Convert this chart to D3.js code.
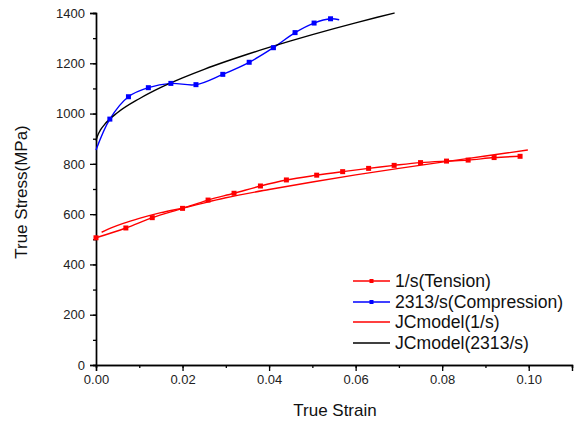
<!DOCTYPE html>
<html>
<head>
<meta charset="utf-8">
<script src="https://cdn.jsdelivr.net/npm/d3@7"></script>
<style>
  html, body { margin: 0; padding: 0; background: #fff; }
  svg { display: block; font-family: Arial, "Liberation Sans", sans-serif; }
</style>
</head>
<body>
<svg id="chart" width="581" height="422"></svg>
<script>
// ---- Data ----
const xTicks = [0, 0.02, 0.04, 0.06, 0.08, 0.10];
const xTickLabels = ["0.00", "0.02", "0.04", "0.06", "0.08", "0.10"];
const yTicks = [0, 200, 400, 600, 800, 1000, 1200, 1400];

// 1/s (Tension) experimental
const tensionStrain = [0, 0.0069, 0.013, 0.020, 0.0259, 0.0319, 0.038, 0.044, 0.051, 0.057, 0.063, 0.0689, 0.075, 0.081, 0.086, 0.092, 0.098];
const tensionStress = [506, 545, 586, 623, 656, 683, 712, 736, 755, 769, 782, 794, 805, 811, 815, 825, 830];

// 2313/s (Compression) experimental
const compStrain = [0, 0.0032, 0.0075, 0.0121, 0.0173, 0.0231, 0.0293, 0.0354, 0.041, 0.046, 0.0504, 0.0542, 0.0562];
const compStress = [855, 978, 1067, 1103, 1120, 1115, 1156, 1204, 1262, 1322, 1360, 1377, 1373];
const compMarker = [false, true, true, true, true, true, true, true, true, true, true, true, false];

// JC model (1/s)
const jc1Strain = [0.0013, 0.0035, 0.0063, 0.01, 0.015, 0.02, 0.03, 0.04, 0.05, 0.06, 0.07, 0.08, 0.09, 0.0998];
const jc1Stress = [528, 545, 563, 583, 606, 624, 665, 698, 728, 756, 782, 807, 831, 855];

// JC model (2313/s)
const jc2Strain = [0, 0.0005, 0.001, 0.002, 0.005, 0.01, 0.015, 0.02, 0.025, 0.03, 0.035, 0.04, 0.045, 0.05, 0.055, 0.06, 0.065, 0.069];
const jc2Stress = [893, 918, 934, 957, 1004, 1059, 1104, 1142, 1176, 1207, 1236, 1263, 1289, 1314, 1338, 1361, 1383, 1400];

const legendLabels = ["1/s(Tension)", "2313/s(Compression)", "JCmodel(1/s)", "JCmodel(2313/s)"];
const seriesColors = ["#ff0000", "#0000ff", "#ff0000", "#000000"];

// ---- Chart ----
const svg = d3.select("#chart");
const x = d3.scaleLinear().domain([0, 0.11]).range([96, 572]);
const y = d3.scaleLinear().domain([0, 1400]).range([365, 13]);

const zip = (a, b) => a.map((v, i) => [v, b[i]]);
const tension = zip(tensionStrain, tensionStress);
const comp = zip(compStrain, compStress);
const jc1 = zip(jc1Strain, jc1Stress);
const jc2 = zip(jc2Strain, jc2Stress);

// Axes
const xAxisMinor = d3.axisBottom(x).tickValues(d3.range(0, 0.1101, 0.01)).tickSize(3).tickFormat("");
const xAxis = d3.axisBottom(x).tickValues(xTicks).tickSize(6).tickPadding(4)
  .tickFormat((d, i) => xTickLabels[i]);
const yAxisMinor = d3.axisLeft(y).tickValues(d3.range(0, 1401, 100)).tickSize(3).tickFormat("");
const yAxis = d3.axisLeft(y).tickValues(yTicks).tickSize(6).tickPadding(5).tickFormat(d3.format("d"));

function styleAxis(g) {
  g.selectAll("path.domain").attr("stroke", "#000").attr("stroke-width", 1.4);
  g.selectAll(".tick line").attr("stroke", "#000").attr("stroke-width", 1.3);
  g.selectAll(".tick text").attr("fill", "#222").style("font-size", "13px")
    .style("font-family", "Arial, 'Liberation Sans', sans-serif");
}

svg.append("g").attr("transform", "translate(0,365)").call(xAxisMinor).call(styleAxis);
svg.append("g").attr("transform", "translate(0,365)").call(xAxis).call(styleAxis);
svg.append("g").attr("transform", "translate(96,0)").call(yAxisMinor).call(styleAxis);
svg.append("g").attr("transform", "translate(96,0)").call(yAxis).call(styleAxis);

// Axis titles
svg.append("text").attr("x", 335).attr("y", 416).attr("text-anchor", "middle")
  .style("font-size", "17px").attr("fill", "#111").text("True Strain");
svg.append("text").attr("transform", "translate(27,192) rotate(-90)").attr("text-anchor", "middle")
  .style("font-size", "17px").attr("fill", "#111").text("True Stress(MPa)");

// Lines
const smooth = d3.line().x(d => x(d[0])).y(d => y(d[1])).curve(d3.curveCatmullRom.alpha(0.5));
const model = d3.line().x(d => x(d[0])).y(d => y(d[1])).curve(d3.curveMonotoneX);

svg.append("path").datum(jc1).attr("d", model).attr("fill", "none")
  .attr("stroke", seriesColors[2]).attr("stroke-width", 1.4);
svg.append("path").datum(tension).attr("d", smooth).attr("fill", "none")
  .attr("stroke", seriesColors[0]).attr("stroke-width", 1.4);
svg.append("path").datum(comp).attr("d", smooth).attr("fill", "none")
  .attr("stroke", seriesColors[1]).attr("stroke-width", 1.4);
svg.append("path").datum(jc2).attr("d", model).attr("fill", "none")
  .attr("stroke", seriesColors[3]).attr("stroke-width", 1.4);

// Markers
const ms = 5;
svg.append("g").selectAll("rect").data(tension).join("rect")
  .attr("x", d => x(d[0]) - ms / 2).attr("y", d => y(d[1]) - ms / 2)
  .attr("width", ms).attr("height", ms).attr("fill", seriesColors[0]);
svg.append("g").selectAll("rect").data(comp.filter((d, i) => compMarker[i])).join("rect")
  .attr("x", d => x(d[0]) - ms / 2).attr("y", d => y(d[1]) - ms / 2)
  .attr("width", ms).attr("height", ms).attr("fill", seriesColors[1]);

// Legend
const legendY = [281, 302, 322, 343];
const lg = svg.append("g");
legendLabels.forEach((lab, i) => {
  lg.append("line").attr("x1", 353).attr("x2", 390).attr("y1", legendY[i]).attr("y2", legendY[i])
    .attr("stroke", seriesColors[i]).attr("stroke-width", 1.4);
  if (i < 2) {
    lg.append("rect").attr("x", 371.5 - 2).attr("y", legendY[i] - 2).attr("width", 4).attr("height", 4)
      .attr("fill", seriesColors[i]);
  }
  lg.append("text").attr("x", 395).attr("y", legendY[i] + 6).style("font-size", "17.6px")
    .attr("fill", "#111").text(lab);
});
</script>
</body>
</html>
